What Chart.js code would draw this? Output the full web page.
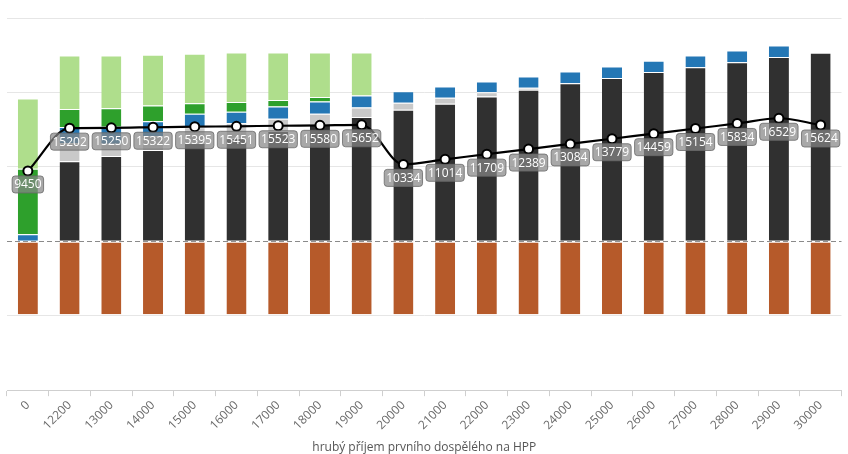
<!DOCTYPE html>
<html>
<head>
<meta charset="utf-8">
<script src="https://cdn.jsdelivr.net/npm/chart.js@4.4.1/dist/chart.umd.min.js"></script>
<style>
  html, body { margin: 0; padding: 0; background: #fff; }
  #wrap { width: 848px; height: 454px; position: relative; }
</style>
</head>
<body>
<div id="wrap"><canvas id="c"></canvas></div>
<script>
const categories = ["0","12200","13000","14000","15000","16000","17000","18000","19000","20000","21000","22000","23000","24000","25000","26000","27000","28000","29000","30000"];

const costs      = [-9800,-9800,-9800,-9800,-9800,-9800,-9800,-9800,-9800,-9800,-9800,-9800,-9800,-9800,-9800,-9800,-9800,-9800,-9800,-9800];
const netWage    = [0,10770,11470,12270,13200,13870,14820,15760,16710,17670,18470,19440,20360,21250,21930,22730,23400,24070,24770,25330];
const grayPart   = [0,2390,1630,1860,2130,2000,1650,1370,1250,960,820,590,270,0,0,0,0,0,0,0];
const bluePart   = [930,2200,2300,2000,1800,1530,1640,1640,1640,1540,1510,1440,1500,1550,1540,1540,1570,1570,1540,0];
const darkGreen  = [8800,2430,2470,2110,1400,1330,890,630,0,0,0,0,0,0,0,0,0,0,0,0];
const lightGreen = [9470,7180,7100,6830,6670,6640,6370,5970,5770,0,0,0,0,0,0,0,0,0,0,0];
const totalLine  = [9450,15202,15250,15322,15395,15451,15523,15580,15652,10334,11014,11709,12389,13084,13779,14459,15154,15834,16529,15624];

const xTitle = "hrubý příjem prvního dospělého na HPP";

const FONT = "'Open Sans', 'DejaVu Sans', sans-serif";

function barSet(label, data, color) {
  return {
    type: 'bar', label, data, backgroundColor: color,
    borderColor: '#ffffff', borderWidth: {top: 1, bottom: 0, left: 0, right: 0},
    borderSkipped: false,
    stack: 's', order: 2,
    barPercentage: 0.48, categoryPercentage: 1.0
  };
}

const zeroLinePlugin = {
  id: 'zeroLine',
  beforeDatasetsDraw(chart) {
    const {ctx, chartArea, scales} = chart;
    const y = Math.round(scales.y.getPixelForValue(0)) + 0.5;
    ctx.save();
    ctx.strokeStyle = '#8a8a8a';
    ctx.lineWidth = 1;
    ctx.setLineDash([5, 3]);
    ctx.beginPath();
    ctx.moveTo(chartArea.left, y);
    ctx.lineTo(chartArea.right, y);
    ctx.stroke();
    ctx.restore();
  }
};

const labelPlugin = {
  id: 'pointLabels',
  afterDatasetsDraw(chart) {
    const ds = chart.data.datasets.findIndex(d => d.type === 'line');
    const meta = chart.getDatasetMeta(ds);
    const ctx = chart.ctx;
    ctx.save();
    ctx.font = "12px " + FONT;
    ctx.textAlign = 'center';
    ctx.textBaseline = 'middle';
    meta.data.forEach((pt, i) => {
      const txt = String(chart.data.datasets[ds].data[i]);
      const w = ctx.measureText(txt).width + 4;
      const h = 17;
      const x = pt.x - w / 2;
      const y = pt.y + 5;
      ctx.beginPath();
      ctx.roundRect(x, y, w, h, 3);
      ctx.fillStyle = 'rgba(135,135,135,0.72)';
      ctx.fill();
      ctx.lineWidth = 1;
      ctx.strokeStyle = 'rgba(105,105,105,0.8)';
      ctx.stroke();
      ctx.fillStyle = '#ffffff';
      ctx.fillText(txt, pt.x, y + h / 2 + 0.5);
    });
    ctx.restore();
  }
};

new Chart(document.getElementById('c'), {
  data: {
    labels: categories,
    datasets: [
      {
        type: 'line', label: 'celkem', data: totalLine,
        borderColor: '#000', borderWidth: 2.2,
        pointBackgroundColor: '#fff', pointBorderColor: '#000',
        pointBorderWidth: 2, pointRadius: 4.5,
        cubicInterpolationMode: 'monotone', order: 0
      },
      barSet('náklady', costs, '#b65a2a'),
      barSet('čistá mzda', netWage, '#303030'),
      barSet('šedá', grayPart, '#c9c9c9'),
      barSet('modrá', bluePart, '#2477b5'),
      barSet('tmavě zelená', darkGreen, '#2ea02c'),
      barSet('světle zelená', lightGreen, '#afde8c')
    ]
  },
  options: {
    responsive: true,
    maintainAspectRatio: false,
    animation: false,
    layout: { padding: { top: 18, left: 7, right: 3, bottom: 0 } },
    plugins: { legend: { display: false }, tooltip: { enabled: false } },
    scales: {
      x: {
        stacked: true,
        offset: true,
        grid: { offset: true, drawOnChartArea: false, drawTicks: true, tickLength: 6, color: '#cfcfcf' },
        border: { display: true, color: '#cfcfcf' },
        ticks: { color: '#6a6a6a', font: { family: FONT, size: 12 }, minRotation: 45, maxRotation: 45, autoSkip: false, padding: 2 },
        title: { display: true, text: xTitle, color: '#555', font: { family: FONT, size: 12 }, padding: { top: 6, bottom: -1 } }
      },
      y: {
        stacked: true,
        min: -20000, max: 30000,
        ticks: { display: false, stepSize: 10000 },
        border: { display: false },
        grid: {
          drawTicks: false,
          color: c => (c.tick && c.tick.value === 0) ? 'rgba(0,0,0,0)' : '#e6e6e6'
        }
      }
    }
  },
  plugins: [zeroLinePlugin, labelPlugin]
});
</script>
</body>
</html>
